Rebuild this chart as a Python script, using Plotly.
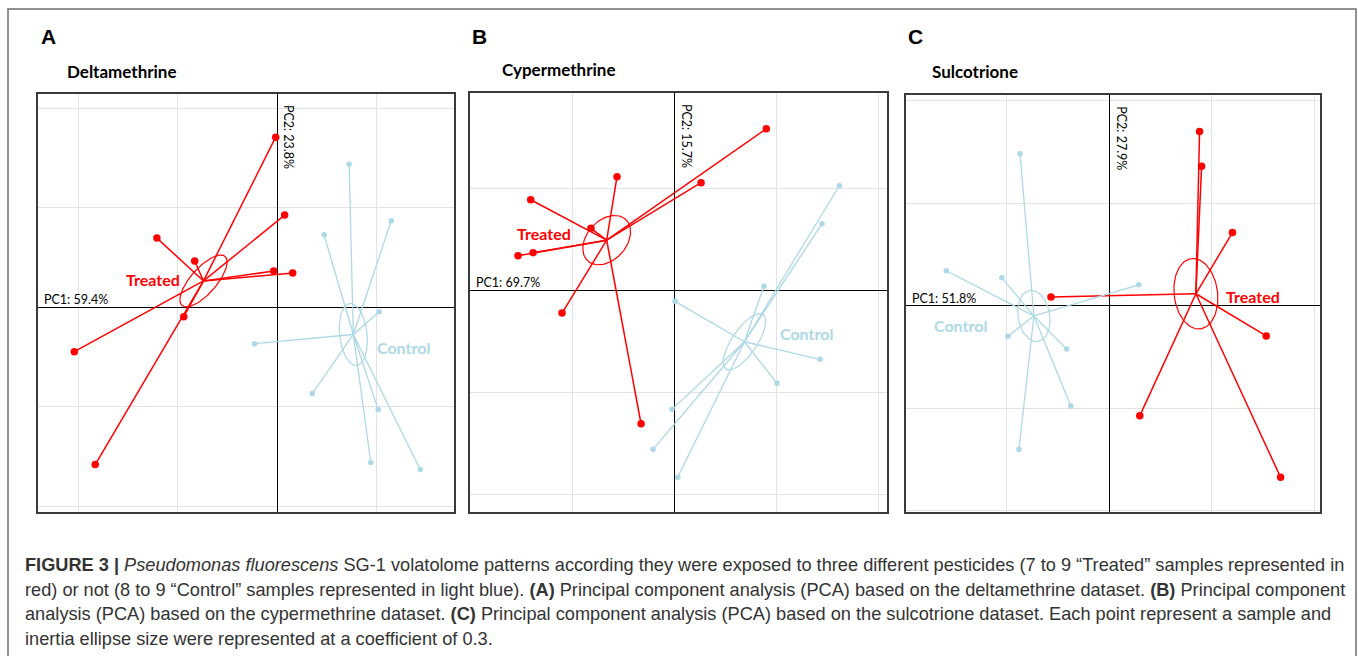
import numpy as np
import plotly.graph_objects as go

W, H = 1358, 656

# ---------------- data (PCA scores, in axis units) ----------------
# Panel A - Deltamethrine
a_treated_x = [-0.016, 0.074, -1.21, -0.83, -0.036, 0.155, -0.94, -2.04, -1.83]
a_treated_y = [1.71, 0.927, 0.696, 0.465, 0.364, 0.344, -0.094, -0.446, -1.58]
a_control_x = [0.722, 1.145, 0.470, 1.024, -0.228, 0.352, 1.014, 0.940, 1.437]
a_control_y = [1.439, 0.870, 0.729, -0.044, -0.365, -0.867, -1.028, -1.560, -1.630]

# Panel B - Cypermethrine
b_treated_x = [0.902, 0.262, -0.562, -1.408, -0.817, -1.385, -1.532, -1.101, -0.326]
b_treated_y = [1.584, 1.055, 1.114, 0.888, 0.608, 0.369, 0.339, -0.223, -1.308]
b_control_x = [1.618, 1.448, 0.879, 0.007, 1.428, 1.007, -0.023, -0.209, 0.033]
b_control_y = [1.025, 0.653, 0.039, -0.108, -0.676, -0.912, -1.167, -1.559, -1.833]

# Panel C - Sulcotrione
c_treated_x = [0.882, 0.902, 1.203, -0.569, 1.533, 0.298, 1.673]
c_treated_y = [1.702, 1.362, 0.714, 0.085, -0.295, -1.076, -1.676]
c_control_x = [-0.872, -1.591, -1.049, 0.288, -0.990, -0.415, -0.375, -0.882]
c_control_y = [1.485, 0.341, 0.272, 0.204, -0.298, -0.424, -0.979, -1.404]

panel_letters = ["A", "B", "C"]
panel_titles = ["Deltamethrine", "Cypermethrine", "Sulcotrione"]
pc1_labels = ["PC1: 59.4%", "PC1: 69.7%", "PC1: 51.8%"]
pc2_labels = ["PC2: 23.8%", "PC2: 15.7%", "PC2: 27.9%"]
group_names = ["Treated", "Control"]
ellipse_coef = 0.3

caption_lines = [
    "<b>FIGURE 3 |</b> <i>Pseudomonas fluorescens</i> SG-1 volatolome patterns according they were exposed to three different pesticides (7 to 9 \u201cTreated\u201d samples represented in",
    "red) or not (8 to 9 \u201cControl\u201d samples represented in light blue). <b>(A)</b> Principal component analysis (PCA) based on the deltamethrine dataset. <b>(B)</b> Principal component",
    "analysis (PCA) based on the cypermethrine dataset. <b>(C)</b> Principal component analysis (PCA) based on the sulcotrione dataset. Each point represent a sample and",
    "inertia ellipse size were represented at a coefficient of 0.3.",
]

# ---------------- layout geometry (pixels) ----------------
panels = [
    dict(px=(38.3, 453.7), py=(93.7, 512.3), xr=(-2.402, 1.773), yr=(-2.060, 2.147),
         tx=(a_treated_x, a_treated_y), cx=(a_control_x, a_control_y),
         tlab=(-1.25, 0.28), clab=(1.27, -0.40), letter_x=39, title_x=65, title_y=72),
    dict(px=(469.5, 887.0), py=(92.7, 512.3), xr=(-2.008, 2.085), yr=(-2.176, 1.937),
         tx=(b_treated_x, b_treated_y), cx=(b_control_x, b_control_y),
         tlab=(-1.28, 0.56), clab=(1.30, -0.42), letter_x=470, title_x=500, title_y=69),
    dict(px=(906.0, 1320.3), py=(95.0, 512.3), xr=(-1.985, 2.061), yr=(-2.018, 2.058),
         tx=(c_treated_x, c_treated_y), cx=(c_control_x, c_control_y),
         tlab=(1.40, 0.09), clab=(-1.45, -0.19), letter_x=906, title_x=930, title_y=72),
]

RED = "#FF0000"
BLUE = "#ADD8E6"
LABEL_FONT = "Lato, 'Open Sans', sans-serif"


def ellipse(x, y, c, n=120):
    x = np.asarray(x, float)
    y = np.asarray(y, float)
    cov = np.cov(np.vstack([x, y]), bias=True)
    vals, vecs = np.linalg.eigh(cov)
    t = np.linspace(0, 2 * np.pi, n)
    circ = np.vstack([np.cos(t), np.sin(t)]) * (c * np.sqrt(np.clip(vals, 0, None)))[:, None]
    pts = vecs @ circ
    return x.mean() + pts[0], y.mean() + pts[1]


def star(x, y):
    mx, my = np.mean(x), np.mean(y)
    sx, sy = [], []
    for xi, yi in zip(x, y):
        sx += [mx, xi, None]
        sy += [my, yi, None]
    return sx, sy


fig = go.Figure()
annotations = []
shapes = []

for i, p in enumerate(panels):
    k = "" if i == 0 else str(i + 1)
    xa, ya = "x" + k, "y" + k
    groups = [(p["tx"], RED, 7.5, 1.5), (p["cx"], BLUE, 5.5, 1.3)]
    for (gx, gy), col, msize, lw in groups:
        sx, sy = star(gx, gy)
        fig.add_trace(go.Scatter(x=sx, y=sy, mode="lines", line=dict(color=col, width=lw),
                                 xaxis=xa, yaxis=ya, hoverinfo="skip", showlegend=False))
        ex, ey = ellipse(gx, gy, ellipse_coef)
        fig.add_trace(go.Scatter(x=ex, y=ey, mode="lines", line=dict(color=col, width=1.2),
                                 xaxis=xa, yaxis=ya, hoverinfo="skip", showlegend=False))
        fig.add_trace(go.Scatter(x=gx, y=gy, mode="markers", marker=dict(color=col, size=msize),
                                 xaxis=xa, yaxis=ya, showlegend=False))

    dx = [p["px"][0] / W, p["px"][1] / W]
    dy = [1 - p["py"][1] / H, 1 - p["py"][0] / H]
    axis_common = dict(showticklabels=False, ticks="", showgrid=True, gridcolor="#E3E3E3",
                       gridwidth=1, dtick=1, tick0=0, zeroline=True, zerolinecolor="#000000",
                       zerolinewidth=1.2, showline=True, linecolor="#3A3A3A", linewidth=1.6,
                       mirror=True, fixedrange=True)
    fig.update_layout(**{
        "xaxis" + k: dict(domain=dx, range=list(p["xr"]), anchor=ya, **axis_common),
        "yaxis" + k: dict(domain=dy, range=list(p["yr"]), anchor=xa, **axis_common),
    })

    # group labels
    annotations.append(dict(x=p["tlab"][0], y=p["tlab"][1], xref=xa, yref=ya, text="<b>Treated</b>",
                            showarrow=False, font=dict(family=LABEL_FONT, size=16, color=RED)))
    annotations.append(dict(x=p["clab"][0], y=p["clab"][1], xref=xa, yref=ya, text="<b>Control</b>",
                            showarrow=False, font=dict(family=LABEL_FONT, size=16, color=BLUE)))
    # PC labels
    annotations.append(dict(x=p["xr"][0], y=0, xref=xa, yref=ya, text=pc1_labels[i], xanchor="left",
                            yanchor="bottom", xshift=4, yshift=-2, showarrow=False,
                            font=dict(family=LABEL_FONT, size=12.5, color="#000000")))
    annotations.append(dict(x=0, y=p["yr"][1], xref=xa, yref=ya, text=pc2_labels[i], textangle=90,
                            xanchor="left", yanchor="top", xshift=2, yshift=-9, showarrow=False,
                            font=dict(family=LABEL_FONT, size=12.5, color="#000000")))
    # panel letter and title
    annotations.append(dict(x=p["letter_x"] / W, y=1 - 36 / H, xref="paper", yref="paper",
                            text="<b>" + panel_letters[i] + "</b>", xanchor="left", yanchor="middle",
                            showarrow=False, font=dict(family="Liberation Sans, Arial", size=21, color="#000")))
    annotations.append(dict(x=p["title_x"] / W, y=1 - p["title_y"] / H, xref="paper", yref="paper",
                            text="<b>" + panel_titles[i] + "</b>", xanchor="left", yanchor="middle",
                            showarrow=False, font=dict(family=LABEL_FONT, size=17, color="#000")))

# caption
for j, line in enumerate(caption_lines):
    annotations.append(dict(x=23 / W, y=1 - (565 + 24.6 * j) / H, xref="paper", yref="paper",
                            text=line, xanchor="left", yanchor="middle", showarrow=False,
                            font=dict(family="Liberation Sans, Arial", size=18.2, color="#333333")))

# outer frame
shapes.append(dict(type="rect", xref="paper", yref="paper", x0=8 / W, x1=1356 / W,
                   y0=1 - 700 / H, y1=1 - 9 / H, line=dict(color="#6E6E6E", width=1.5)))

fig.update_layout(width=W, height=H, margin=dict(l=0, r=0, t=0, b=0),
                  paper_bgcolor="white", plot_bgcolor="white",
                  annotations=annotations, shapes=shapes, showlegend=False)

fig.write_html("out.html", config={"displayModeBar": False})

# remove the browser's default page margin so the figure sits at the window origin
with open("out.html", "r", encoding="utf-8") as f:
    html = f.read()
html = html.replace("<body>", '<body style="margin:0;padding:0;overflow:hidden">', 1)
with open("out.html", "w", encoding="utf-8") as f:
    f.write(html)
